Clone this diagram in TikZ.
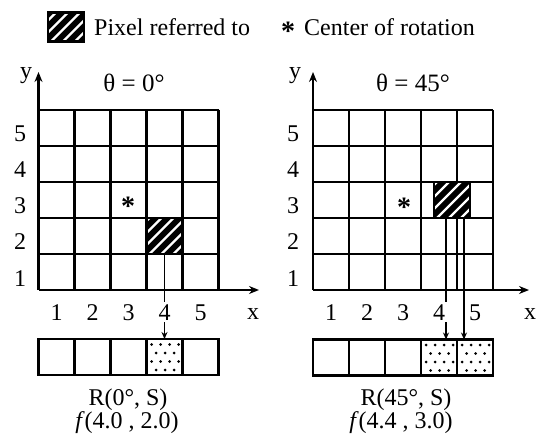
\documentclass[tikz,border=0pt]{standalone}
\usepackage{fontspec}
\setmainfont{Liberation Serif}
\usetikzlibrary{arrows.meta}
\tikzset{
  gridline/.style={line width=2.1bp},
  axisline/.style={line width=2.6bp,-{Stealth[length=10bp,width=8bp]}},
  conn/.style={line width=1.6bp,-{Stealth[length=7bp,width=6bp]}},
  lbl/.style={inner sep=2bp,fill=white},
  cellbox/.style={draw,line width=2.1bp,minimum width=36bp,minimum height=36bp,inner sep=0pt,outer sep=0pt},
  hatched/.style={fill=black,path picture={
    \foreach \k in {-33,-21,-9,3,15,27}
      \draw[white,line width=2.4bp] ([xshift=\k bp]path picture bounding box.south west) -- ++(50,-50);}},
  dotted cell/.style={path picture={
    \foreach \r in {0,1,2,3}{\foreach \c in {0,1,2,3}{
      \pgfmathsetmacro\dx{5+4.5*mod(\r,2)+9*\c}
      \pgfmathsetmacro\dy{5.5+8.5*\r}
      \fill ([xshift=\dx bp,yshift=-\dy bp]path picture bounding box.north west) circle (1.5bp);}}}},
  star/.style={font=\fontsize{28bp}{30bp}\selectfont\bfseries,inner sep=0pt,anchor=base},
}
\begin{document}
\begin{tikzpicture}[x=1bp,y=-1bp,font=\fontsize{24bp}{28bp}\selectfont]
\useasboundingbox (0,0) rectangle (540,444);
% legend
\node[cellbox,hatched,minimum height=29bp] (legbox) at (66,27) {};
\node[anchor=base west,inner sep=0pt] (legtext) at (94,36) {Pixel referred to};
\node[star] (legstar) at (288,41) {*};
\node[anchor=base west,inner sep=0pt] (legstartext) at (304,36) {Center of rotation};

% ---------- left panel ----------
\foreach \i in {0,...,5} {
  \draw[gridline] (38.5+36*\i,110) -- (38.5+36*\i,290);
  \draw[gridline] (38.5,110+36*\i) -- (218.5,110+36*\i);
}
\coordinate (oL) at (38.5,290);
\coordinate (yL) at (38.5,72);
\coordinate (xL) at (259,290);
\draw[axisline] (oL) -- (yL);
\draw[axisline] (oL) -- (xL);
\node[anchor=base,font=\fontsize{25bp}{28bp}\selectfont] (tL) at (134,92) {θ = 0°};
\node[cellbox,hatched] (hatchL) at (164.5,236) {};
\node[star] (starL) at (128,216) {*};
% bottom row left
\foreach \k in {1,...,5} {
  \node[cellbox] (rowL\k) at (20.5+36*\k,357) {};
}
\node[cellbox,dotted cell] (rowL4) at (164.5,357) {};
\draw[conn] (hatchL.south) -- (rowL4.north);

% ---------- right panel ----------
\foreach \i in {0,...,5} {
  \draw[gridline] (313+36*\i,110) -- (313+36*\i,290);
  \draw[gridline] (313,110+36*\i) -- (493,110+36*\i);
}
\coordinate (oR) at (313,290);
\coordinate (yR) at (313,72);
\coordinate (xR) at (529,290);
\draw[axisline] (oR) -- (yR);
\draw[axisline] (oR) -- (xR);
\node[anchor=base,font=\fontsize{25bp}{28bp}\selectfont] (tR) at (413,92) {θ = 45°};
\node[cellbox,hatched] (hatchR) at (452,200) {};
\node[star] (starR) at (404,217) {*};
\foreach \k in {1,...,5} {
  \node[cellbox] (rowR\k) at (295+36*\k,357.5) {};
}
\node[cellbox,dotted cell] (rowR4) at (439,357.5) {};
\node[cellbox,dotted cell] (rowR5) at (475,357.5) {};
\coordinate (sA) at ([xshift=-6bp]hatchR.south);
\coordinate (sB) at ([xshift=12bp]hatchR.south);
\draw[conn] (sA) -- (sA |- rowR4.north);
\draw[conn] (sB) -- (sB |- rowR5.north);

% ---------- axis labels ----------
\node[anchor=base,inner sep=0pt] (ylabL) at (26,79) {y};
\node[anchor=base,inner sep=0pt] (ylabR) at (295,79) {y};
\node[anchor=base,inner sep=0pt] (xlabL) at (253,319) {x};
\node[anchor=base,inner sep=0pt] (xlabR) at (530,319) {x};
\foreach \n in {1,...,5} {
  \node[lbl,anchor=base] (xnL\n) at (20.5+36*\n,320) {\n};
  \node[lbl,anchor=base] (xnR\n) at (295+36*\n,320) {\n};
  \node[anchor=base,inner sep=0pt] (ynL\n) at (20,310-36*\n+12) {\n};
  \node[anchor=base,inner sep=0pt] (ynR\n) at (293,310-36*\n+12) {\n};
}

% ---------- captions ----------
\node[anchor=base] (capL1) at (128,405) {R(0°, S)};
\node[anchor=base] (capL2) at (127,428) {\textit{f}(4.0 , 2.0)};
\node[anchor=base] (capR1) at (406,405) {R(45°, S)};
\node[anchor=base] (capR2) at (401,428) {\textit{f}(4.4 , 3.0)};
\end{tikzpicture}
\end{document}
